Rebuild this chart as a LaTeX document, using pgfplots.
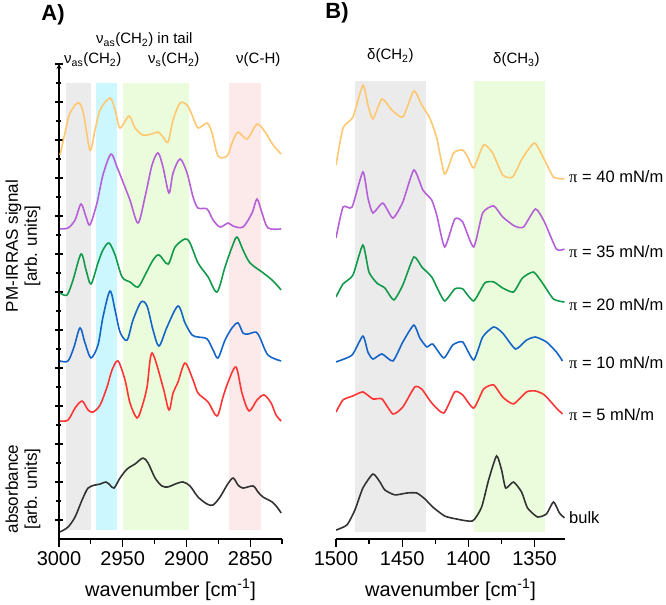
\documentclass[border=0pt]{standalone}
\usepackage{pgfplots}
\pgfplotsset{compat=1.18}
\usepackage{fontspec}
\setmainfont{Liberation Sans}
\newfontfamily\serifpi{Liberation Serif}
\definecolor{bgray}{HTML}{EBEBEB}
\definecolor{bcyan}{HTML}{CCF7FF}
\definecolor{bgreen}{HTML}{EAFCDB}
\definecolor{bpink}{HTML}{FCE9E9}
\definecolor{cyel}{HTML}{FFC870}
\definecolor{cpur}{HTML}{B560D8}
\definecolor{cgrn}{HTML}{109A4A}
\definecolor{cblu}{HTML}{1565C8}
\definecolor{cred}{HTML}{FF3535}
\definecolor{cblk}{HTML}{333333}
\pgfplotsset{
  spec/.style={smooth, tension=0.5, line width=1.6bp, mark=none},
  base/.style={
    scale only axis, height=475bp, ymin=0, ymax=25, x dir=reverse,
    axis x line=bottom, axis line style={-, line width=1.2bp, black},
    tick style={line width=1.2bp, black}, tick align=outside,
    major tick length=8bp, minor tick length=5bp,
    /pgf/number format/assume math mode=true,
    /pgf/number format/1000 sep={},
    tick label style={font=\fontsize{20bp}{24bp}\selectfont},
    xticklabel style={yshift=-1bp},
    every axis x label/.style={at={(axis description cs:0.5,0)}, anchor=center, yshift=-51bp,
      font=\fontsize{20bp}{24bp}\selectfont},
  },
}
\newcommand{\ann}{\fontsize{15bp}{18bp}\selectfont}
\begin{document}
\begin{tikzpicture}[x=1bp,y=1bp]
\useasboundingbox (0,0) rectangle (666,605);
% ---------------- Panel A ----------------
\begin{axis}[base, at={(59bp,66bp)}, anchor=south west, width=223bp,
  xmin=2825, xmax=3000,
  axis y line=left,
  xtick={3000,2950,2900,2850}, minor xtick={2975,2925,2875,2825},
  ytick={1,3,...,25}, minor ytick={2,4,...,24}, yticklabels={},
  xlabel={wavenumber [cm\textsuperscript{-1}]}]
\addplot[fill=bgray, draw=none] coordinates {(2994.7,0.47) (2974.9,0.47) (2974.9,24.0) (2994.7,24.0)} -- cycle;
\addplot[fill=bcyan, draw=none] coordinates {(2971,0.47) (2954.2,0.47) (2954.2,24.0) (2971,24.0)} -- cycle;
\addplot[fill=bgreen, draw=none] coordinates {(2949.5,0.47) (2897.7,0.47) (2897.7,24.0) (2949.5,24.0)} -- cycle;
\addplot[fill=bpink, draw=none] coordinates {(2866.3,0.47) (2841.4,0.47) (2841.4,24.0) (2866.3,24.0)} -- cycle;
% pi = 40 mN/m
\addplot[spec, cyel] coordinates {(2999.2,20.21) (2995.3,21.37) (2991.4,22.42) (2984.9,22.96) (2980.9,22.42) (2975.7,20.47) (2971.7,21.53) (2967.8,22.58) (2960.0,23.21) (2956.0,22.58) (2952.1,21.63) (2945.1,22.26) (2940.3,21.63) (2934.1,21.26) (2927.0,21.32) (2922.3,21.42) (2918.4,21.16) (2914.4,20.89) (2910.5,22.05) (2905.0,22.95) (2899.5,22.84) (2895.6,22.32) (2890.9,21.63) (2883.8,21.89) (2879.9,21.37) (2875.2,20.16) (2868.1,20.16) (2864.2,20.84) (2859.5,21.42) (2852.4,21.05) (2844.6,21.84) (2838.3,21.42) (2832.0,20.74) (2825.7,20.26)};
% pi = 35
\addplot[spec, cpur] coordinates {(2999.2,16.32) (2992.9,16.37) (2987.4,16.79) (2982.7,17.63) (2978.8,16.95) (2975.7,16.53) (2970.2,17.68) (2965.5,19.16) (2959.2,20.26) (2954.5,19.58) (2949.8,18.79) (2944.3,17.84) (2938.0,16.63) (2932.5,18.00) (2927.0,19.68) (2922.3,20.32) (2918.4,19.58) (2913.7,18.21) (2910.5,19.26) (2905.0,20.00) (2899.5,19.26) (2894.8,18.00) (2890.9,17.42) (2883.8,17.37) (2879.1,16.79) (2873.6,16.42) (2867.3,16.63) (2863.4,16.47) (2855.6,16.42) (2848.5,17.16) (2844.6,17.89) (2840.7,17.16) (2836.0,16.37) (2825.7,16.32)};
% pi = 20
\addplot[spec, cgrn] coordinates {(2999.2,12.95) (2993.7,12.84) (2989.0,13.63) (2982.7,15.00) (2978.8,14.16) (2974.9,13.42) (2969.4,14.53) (2965.5,15.21) (2960.8,15.58) (2956.0,14.95) (2950.5,13.79) (2944.3,13.53) (2938.0,13.26) (2932.5,13.89) (2926.2,14.68) (2921.5,14.95) (2914.4,14.47) (2908.9,15.37) (2901.1,15.79) (2897.2,15.58) (2890.9,14.53) (2883.0,13.79) (2876.0,13.00) (2869.7,14.32) (2864.2,15.37) (2860.3,15.89) (2855.6,15.21) (2850.1,14.53) (2840.7,14.05) (2832.8,13.63) (2825.7,13.11)};
% pi = 10
\addplot[spec, cblu] coordinates {(2999.2,9.37) (2992.9,9.37) (2988.2,10.11) (2983.5,11.11) (2979.6,10.32) (2974.9,9.53) (2969.4,10.21) (2965.5,11.68) (2960.0,13.05) (2956.0,12.05) (2952.1,10.89) (2946.6,10.47) (2941.9,11.53) (2935.6,12.47) (2930.9,12.26) (2926.2,11.00) (2921.5,10.16) (2915.2,11.16) (2906.6,12.26) (2901.1,11.37) (2895.6,10.74) (2890.9,10.63) (2883.8,10.53) (2879.1,9.95) (2875.2,9.53) (2869.7,10.47) (2864.2,11.11) (2859.5,11.37) (2855.6,10.84) (2851.6,10.79) (2845.4,10.89) (2842.2,10.58) (2836.0,9.68) (2825.7,9.37)};
% pi = 5
\addplot[spec, cred] coordinates {(2999.2,6.21) (2992.9,6.26) (2987.4,6.89) (2981.9,7.26) (2977.2,6.79) (2973.3,6.68) (2967.8,7.05) (2962.3,8.00) (2958.4,8.89) (2953.7,9.37) (2948.2,8.37) (2944.3,7.16) (2938.8,6.37) (2934.9,6.95) (2930.9,8.00) (2927.0,9.79) (2918.4,8.00) (2913.7,6.79) (2910.5,7.68) (2906.6,8.26) (2901.1,9.26) (2894.8,8.37) (2890.9,7.68) (2883.0,7.21) (2876.0,6.47) (2871.3,7.47) (2867.3,8.26) (2861.1,9.05) (2856.4,7.68) (2850.9,6.74) (2844.6,7.32) (2839.1,7.58) (2833.6,7.16) (2829.7,6.53) (2825.7,6.21)};
% bulk
\addplot[spec, cblk] coordinates {(2999.2,0.37) (2992.9,0.63) (2987.4,1.16) (2981.9,2.05) (2977.2,2.68) (2971.7,2.84) (2967.8,2.89) (2963.1,3.00) (2960.0,2.84) (2956.8,2.68) (2952.1,3.21) (2946.6,3.68) (2940.3,3.95) (2934.1,4.26) (2930.1,4.00) (2924.6,3.21) (2919.2,2.79) (2914.4,2.74) (2908.9,2.89) (2902.7,3.00) (2897.2,2.79) (2890.9,2.21) (2883.8,1.84) (2879.1,1.79) (2873.6,2.21) (2868.1,2.84) (2863.4,3.21) (2859.5,2.84) (2855.6,2.68) (2847.7,2.79) (2843.8,2.47) (2839.9,2.21) (2832.8,1.95) (2828.9,1.68) (2825.7,1.37)};
\end{axis}
% ---------------- Panel B ----------------
\begin{axis}[base, at={(336bp,66bp)}, anchor=south west, width=229bp,
  xmin=1327, xmax=1500,
  axis y line=none,
  xtick={1500,1450,1400,1350}, minor xtick={1475,1425,1375},
  xlabel={wavenumber [cm\textsuperscript{-1}]}]
\addplot[fill=bgray, draw=none] coordinates {(1485.7,0.37) (1432.2,0.37) (1432.2,24.1) (1485.7,24.1)} -- cycle;
\addplot[fill=bgreen, draw=none] coordinates {(1396,0.37) (1342,0.37) (1342,24.1) (1396,24.1)} -- cycle;
\addplot[spec, cyel, tension=0.35] coordinates {(1500,19.68) (1494.7,21.63) (1487.2,22.21) (1479.7,23.89) (1475.9,22.84) (1472.1,22.11) (1465.3,23.16) (1457.8,22.58) (1449.5,22.21) (1441.2,23.58) (1435.2,22.84) (1429.2,22.16) (1423.9,21.11) (1417.9,19.21) (1411.1,20.32) (1404.3,20.47) (1400.5,20.11) (1396.0,19.53) (1388.5,20.74) (1381.7,20.32) (1374.1,19.16) (1366.6,19.05) (1359.1,20.05) (1350.0,20.84) (1342.5,19.95) (1335.7,19.05) (1327.4,18.95)};
\addplot[spec, cpur, tension=0.35] coordinates {(1500,15.84) (1494.7,17.47) (1487.9,17.47) (1479.7,19.32) (1475.9,17.95) (1472.1,17.16) (1464.6,17.68) (1457.0,16.89) (1449.5,17.74) (1441.2,19.42) (1434.4,18.37) (1427.7,17.84) (1423.9,17.05) (1417.9,15.37) (1410.3,16.84) (1404.3,16.68) (1396.0,15.37) (1389.2,17.16) (1380.9,17.53) (1374.1,16.95) (1365.1,16.47) (1358.3,16.42) (1349.3,17.37) (1342.5,16.68) (1333.5,15.26) (1327.4,15.26)};
\addplot[spec, cgrn, tension=0.35] coordinates {(1500,12.74) (1494.7,13.42) (1487.2,13.89) (1479.7,15.47) (1475.1,14.05) (1469.1,13.47) (1463.1,13.21) (1456.3,12.58) (1449.5,13.37) (1441.2,14.84) (1435.2,14.32) (1427.7,13.79) (1423.9,13.26) (1417.9,12.53) (1410.3,13.16) (1404.3,13.16) (1396.0,12.53) (1387.7,13.47) (1380.9,13.53) (1374.1,13.21) (1365.9,13.00) (1359.1,13.74) (1350.8,14.05) (1344.0,13.47) (1335.7,12.63) (1327.4,12.47)};
\addplot[spec, cblu, tension=0.35] coordinates {(1500,9.32) (1487.9,9.68) (1479.7,10.68) (1475.9,9.84) (1472.1,9.47) (1465.3,9.74) (1457.0,9.37) (1449.5,10.37) (1441.2,11.26) (1436.7,10.58) (1431.4,10.11) (1426.9,10.26) (1418.6,9.53) (1411.8,10.21) (1404.3,10.37) (1396.0,9.42) (1389.2,10.63) (1380.9,11.16) (1374.1,10.84) (1364.4,10.00) (1356.1,10.47) (1349.3,10.63) (1341.0,10.37) (1333.5,9.84) (1328.9,9.37)};
\addplot[spec, cred, tension=0.35] coordinates {(1500,6.68) (1494.7,7.32) (1487.2,7.53) (1479.7,7.74) (1472.1,7.37) (1465.3,7.37) (1457.0,6.58) (1449.5,6.95) (1440.5,8.00) (1435.2,7.89) (1427.7,7.16) (1418.6,6.63) (1410.3,7.74) (1404.3,7.58) (1396.0,6.89) (1388.5,7.89) (1380.9,8.11) (1374.1,7.47) (1365.9,7.11) (1356.1,7.74) (1349.3,7.79) (1342.5,7.58) (1333.5,6.89) (1328.9,6.58)};
\addplot[spec, cblk, tension=0.35] coordinates {(1500,0.47) (1491.7,0.74) (1485.7,1.53) (1479.7,2.68) (1472.1,3.42) (1466.8,3.00) (1463.1,2.58) (1455.5,2.32) (1446.5,2.42) (1439.0,2.42) (1432.9,2.11) (1426.9,1.68) (1417.9,1.21) (1408.8,1.05) (1396.8,0.95) (1390.0,1.68) (1384.7,3.11) (1378.7,4.37) (1374.9,3.63) (1371.8,2.68) (1365.9,3.00) (1359.8,2.47) (1355.3,1.63) (1347.8,1.16) (1341.0,1.32) (1335.7,1.95) (1331.2,1.37) (1327.4,1.11)};
\end{axis}
% ---------------- Texts ----------------
\node[font=\bfseries\fontsize{22bp}{26bp}\selectfont] at (53,590) {A)};
\node[font=\bfseries\fontsize{22bp}{26bp}\selectfont] at (337,592) {B)};
\node[rotate=90, align=center, font=\fontsize{17bp}{19bp}\selectfont] at (23,359) {PM-IRRAS signal\\{}[arb. units]};
\node[rotate=90, align=center, font=\fontsize{17bp}{19bp}\selectfont] at (23,116) {absorbance\\{}[arb. units]};
\begin{scope}[every node/.style={anchor=base west, inner sep=0pt, font=\ann}]
\node at (64,541) {ν\textsubscript{as}(CH\textsubscript{2})};
\node at (96,561) {ν\textsubscript{as}(CH\textsubscript{2}) in tail};
\node at (148,541) {ν\textsubscript{s}(CH\textsubscript{2})};
\node at (236,541) {ν(C-H)};
\node at (367,545) {δ(CH\textsubscript{2})};
\node at (493,541) {δ(CH\textsubscript{3})};
\end{scope}
\begin{scope}[every node/.style={anchor=west, inner sep=0pt, font=\fontsize{16.5bp}{19bp}\selectfont}]
\node at (569,428) {{\serifpi π} = 40 mN/m};
\node at (569,353) {{\serifpi π} = 35 mN/m};
\node at (569,300) {{\serifpi π} = 20 mN/m};
\node at (569,242) {{\serifpi π} = 10 mN/m};
\node at (569,190) {{\serifpi π} = 5 mN/m};
\node at (569,87) {bulk};
\end{scope}
\end{tikzpicture}
\end{document}
